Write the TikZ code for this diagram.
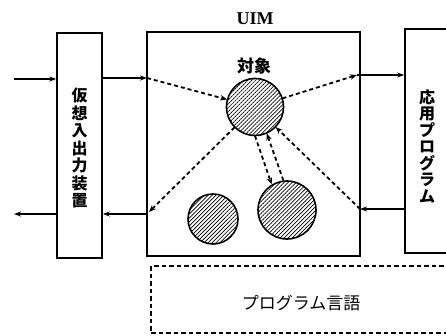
\documentclass[tikz,border=0pt]{standalone}
\usepackage{fontspec}
\setmainfont{Liberation Serif}
\newfontfamily\jp{Noto Sans CJK JP}
\usetikzlibrary{arrows.meta,patterns.meta}
\tikzset{
  box/.style={draw, line width=1.6pt, inner sep=0pt},
  dbox/.style={draw, dash pattern=on 4.5pt off 3pt, line width=1.4pt, inner sep=0pt},
  ball/.style={circle, draw, line width=1.6pt, inner sep=0pt,
    pattern={Lines[angle=45,distance=2.8pt,line width=0.7pt]}},
  sol/.style={line width=1.4pt, -{Stealth[length=7pt,width=5pt]}},
  dsh/.style={line width=1.8pt, dash pattern=on 4pt off 3pt, -{Stealth[length=7pt,width=5.5pt]}},
  vtext/.style={font=\jp\fontsize{16}{17.5}\selectfont\bfseries, align=center, inner sep=0pt},
  lbl/.style={inner sep=0pt}
}
\begin{document}
\begin{tikzpicture}[x=1pt,y=-1pt]
\clip (0,0) rectangle (446,336);
\fill[white] (0,0) rectangle (446,336);
% boxes
\node[box, minimum width=45pt, minimum height=225pt] (vio) at (79.5,145.5) {};
\node[box, minimum width=213pt, minimum height=224pt] (uim) at (253.5,144) {};
\node[box, minimum width=60pt, minimum height=224pt] (app) at (435,141) {};
\node[dbox, minimum width=319pt, minimum height=67pt] (pl) at (310.5,299.5) {};
% labels
\node[vtext] (viot) at (79.5,148) {仮\\想\\入\\出\\力\\装\\置};
\node[vtext, font=\jp\fontsize{16}{16.5}\selectfont\bfseries] (appt) at (427,146.5) {応\\用\\プ\\ロ\\グ\\ラ\\ム};
\node[lbl, font=\fontsize{18}{21}\selectfont\bfseries] (uimt) at (255,19) {UIM};
\node[lbl, font=\jp\fontsize{17}{20}\selectfont\bfseries] (objt) at (254,66) {対象};
\node[lbl, font=\jp\fontsize{17}{20}\selectfont] (plt) at (301,303) {プログラム言語};
% balls
\node[ball, minimum size=57pt] (obj) at (255,107) {};
\node[ball, minimum size=50pt] (c1) at (213,219) {};
\node[ball, minimum size=58pt] (c2) at (287,210) {};
% coordinates
\coordinate (in) at (14,79);
\coordinate (a1) at (147,78);
\coordinate (a2) at (357,75);
\coordinate (a3) at (360,209);
\coordinate (a4) at (149,212);
\coordinate (a5) at (147,214);
\coordinate (out) at (14,214);
% connectors
\draw[sol] (in) -- (in -| vio.west);
\draw[sol] (vio.east |- a1) -- (a1);
\draw[dsh] (a1) -- (obj);
\draw[dsh] (obj) -- (a2);
\draw[sol] (a2) -- (app.west |- a2);
\draw[sol] (app.west |- a3) -- (a3);
\draw[dsh] (a3) -- (obj);
\draw[dsh] (obj) -- (a4);
\draw[sol] (a5) -- (vio.east |- a5);
\draw[sol] (vio.west |- out) -- (out);
\draw[dsh] (obj.-90) -- (c2.121);
\draw[dsh] (c2.97) -- (obj.-66);
\end{tikzpicture}
\end{document}
